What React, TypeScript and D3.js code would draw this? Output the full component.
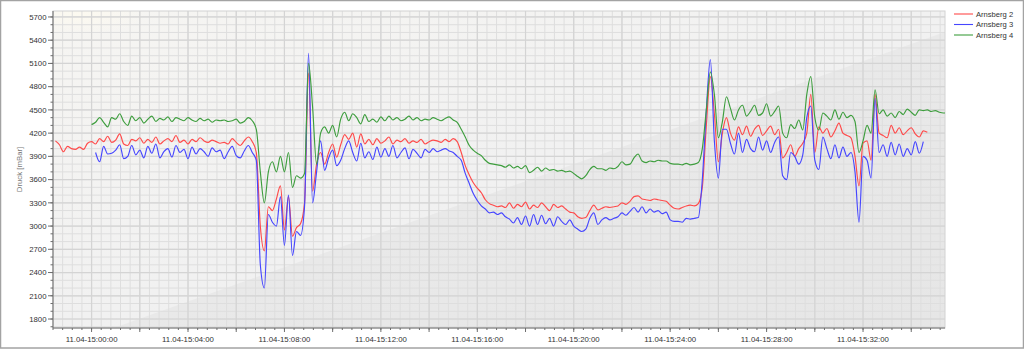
import React from 'react';
import * as d3 from 'd3';

// ---------- data ----------
const BASE_TIME = new Date(2014, 3, 11, 15, 0, 0).getTime(); // 11.04 15:00:00
const SAMPLE_SECONDS = 10;
const X_DOMAIN_SECONDS = [-96, 2124];
const Y_DOMAIN = [1684, 5777];
const Y_LABEL_TICKS = [1800, 2100, 2400, 2700, 3000, 3300, 3600, 3900, 4200, 4500, 4800, 5100, 5400, 5700];
const X_LABEL_MINUTES = [0, 4, 8, 12, 16, 20, 24, 28, 32];
const SERIES_NAMES = ['Arnsberg 2', 'Arnsberg 3', 'Arnsberg 4'];
const SERIES_COLORS = ['#ff4a4a', '#4646ff', '#3e9e3e'];

const redStartSec = -90;
const red = [
  4100, 4050, 3960, 4030, 4000, 3990, 4020, 3990, 4070, 4090,
  4060, 4130, 4090, 4160, 4080, 4110, 4190, 4060, 4040, 4120,
  4100, 4140, 4070, 4120, 4080, 4150, 4060, 4100, 4130, 4090,
  4170, 4080, 4110, 4060, 4120, 4090, 4140, 4100, 4080, 4110,
  4090, 4070, 4080, 4060, 4130, 4080, 4040, 4100, 4150, 4090,
  3950, 3000, 2680, 3250, 3200, 3350, 3520, 2950, 3380, 2870,
  2980, 3030, 3300, 4980, 3450, 3800, 3950, 3800, 3950, 4060,
  3890, 4050, 4180, 4120, 4200, 4020, 4190, 4060, 4120, 4050,
  4130, 4070, 4100, 4150, 4060, 4110, 4090, 4130, 4070, 4100,
  4080, 4120, 4060, 4090, 4110, 4100, 4080, 4120, 4090, 4130,
  4090, 3950, 3780, 3660, 3560, 3490, 3430, 3340, 3290, 3270,
  3250, 3260, 3240, 3300, 3230, 3280, 3250, 3310, 3220, 3270,
  3240, 3300, 3250, 3200, 3280, 3240, 3260, 3220, 3180, 3170,
  3120, 3100, 3110, 3200, 3270, 3210, 3230, 3250, 3240, 3250,
  3260, 3300, 3280, 3320, 3380, 3390, 3350, 3340, 3330, 3350,
  3340, 3330, 3320, 3270, 3230, 3220, 3240, 3260, 3270, 3260,
  3290, 3500, 4300, 4930, 4450, 3830, 4200, 4400, 4200, 4110,
  4280, 4180, 4290, 4160, 4250, 4300, 4170, 4230, 4290, 4180,
  4250, 3880, 3950, 4050, 3900, 4000, 4070, 4200, 4700, 3950,
  4280, 4200, 4260, 4150, 4230, 4330, 4200, 4170, 4140, 3900,
  3520, 4070, 4100, 3850, 4700, 4200, 4170, 4140, 4300, 4200,
  4270, 4180, 4230, 4270, 4190, 4150, 4230, 4210,
];

const blueStartSec = 10;
const blue = [
  3950, 3830, 4030, 3930, 3940, 3980, 4050, 3870, 3900, 4040,
  3920, 3980, 3880, 4030, 3940, 4060, 3880, 3960, 4000, 3890,
  4040, 3950, 3990, 3870, 4020, 3930, 4000, 3960, 3900, 4010,
  3960, 3980, 3870, 3960, 4030, 3910, 3880, 3970, 4040, 3950,
  3850, 2500, 2200, 3150, 3050, 3000, 3380, 2750, 3400, 2620,
  2930, 2880, 3250, 5230, 3300, 3700, 4100, 3720, 3880, 3980,
  3780, 3850, 4000, 4100, 3950, 3840, 4070, 3880, 3960, 3860,
  4020, 3890, 4000, 3900, 4040, 3880, 3950, 4010, 3870, 3990,
  3940, 3880, 3990, 3950, 4000, 3960, 3980, 4000, 3970, 3950,
  3900, 3850, 3680, 3550, 3420, 3330, 3260, 3220, 3170, 3180,
  3150, 3170, 3120, 3090, 3040, 3110, 3020, 3130, 3000, 3150,
  3020, 3140, 3030, 3100, 3000, 3120, 3060, 3020, 3080, 3000,
  2960, 2930, 2960, 3100, 3170, 3020, 3080, 3110, 3080, 3100,
  3120, 3170, 3140, 3190, 3240, 3180, 3250, 3170, 3220, 3180,
  3200, 3160, 3180, 3080, 3060, 3060, 3050, 3100, 3090, 3100,
  3110, 3600, 4500, 5150, 4100, 3620, 4250, 4250, 4070, 3930,
  4200, 3950, 4120, 4000, 3960, 4150, 3980, 4100, 3950, 4080,
  4150, 3650, 3600, 3950, 3900, 3800, 3920, 4400, 4550, 3850,
  3730, 4150, 4000, 3870, 4050, 3880, 4020, 3900, 3950, 3700,
  3050, 3900, 3850, 3620, 4650, 3950, 4050, 3900, 4080, 3920,
  4060, 3900, 4000, 3920, 4090, 3940, 4090,
];

const greenStartSec = 0;
const green = [
  4310,
  4340, 4400, 4340, 4280, 4400, 4380, 4450, 4350, 4300, 4420,
  4360, 4400, 4330, 4380, 4420, 4350, 4390, 4370, 4410, 4350,
  4400, 4380, 4360, 4400, 4370, 4350, 4390, 4360, 4380, 4340,
  4370, 4360, 4370, 4350, 4360, 4380, 4330, 4350, 4400, 4360,
  4250, 3700, 3300, 3700, 3830, 3700, 3900, 3700, 3950, 3500,
  3650, 3620, 3680, 5100, 4540, 3800, 4200, 4280, 4200, 4300,
  4150, 4380, 4470, 4360, 4450, 4400, 4320, 4440, 4350, 4380,
  4340, 4410, 4360, 4420, 4370, 4400, 4360, 4380, 4420, 4370,
  4400, 4360, 4380, 4370, 4400, 4380, 4360, 4390, 4410, 4370,
  4340, 4250, 4150, 4040, 3980, 3940, 3910, 3850, 3810, 3800,
  3790, 3780, 3760, 3790, 3750, 3770, 3740, 3780, 3690, 3720,
  3760, 3710, 3750, 3720, 3730, 3710, 3720, 3700, 3710, 3680,
  3640, 3610, 3650, 3730, 3770, 3740, 3740, 3720, 3750, 3740,
  3770, 3830, 3790, 3800, 3880, 3930, 3840, 3820, 3840, 3830,
  3850, 3840, 3840, 3810, 3800, 3800, 3790, 3810, 3790, 3800,
  3820, 4000, 4500, 4990, 4700, 4140, 4350, 4670, 4520, 4370,
  4500, 4560, 4420, 4480, 4560, 4430, 4460, 4580, 4420, 4480,
  4550, 4200, 4140, 4310, 4260, 4370, 4240, 4700, 4930, 4400,
  4240, 4460, 4420, 4370, 4500, 4380, 4470, 4400, 4430, 4350,
  3950, 4100, 4300, 4200, 4760, 4450, 4500, 4420, 4460, 4400,
  4480, 4440, 4510, 4470, 4430, 4500, 4490, 4500, 4480, 4490,
  4470, 4460, 4460,
];

const SERIES = [
  { start: redStartSec, values: red },
  { start: blueStartSec, values: blue },
  { start: greenStartSec, values: green },
];

// ---------- layout ----------
const W = 1024;
const H = 349;
const PL = 53;
const PR = 945;
const PT = 11;
const PB = 328;
const FONT = '"Liberation Sans", Arial, sans-serif';

const toDate = (s: number) => new Date(BASE_TIME + s * 1000);

export default function App() {
  const x = d3.scaleTime().domain(X_DOMAIN_SECONDS.map(toDate)).range([PL, PR]);
  const y = d3.scaleLinear().domain(Y_DOMAIN).range([PB, PT]);
  const fmt = d3.timeFormat('%d.%m-%H:%M:%S');

  const minorX = d3.range(X_DOMAIN_SECONDS[0], X_DOMAIN_SECONDS[1] + 1, 24).map(toDate);
  const majorX = d3.range(0, X_DOMAIN_SECONDS[1] + 1, 120).map(toDate);
  const minorY = d3.range(1700, 5701, 100);
  const majorY = Y_LABEL_TICKS;

  const line = d3
    .line<[Date, number]>()
    .x((d) => x(d[0]))
    .y((d) => y(d[1]))
    .curve(d3.curveMonotoneX);

  const pw = PR - PL;
  const ph = PB - PT;

  return (
    <svg width={W} height={H} style={{ position: 'absolute', left: 0, top: 0, fontFamily: FONT }}>
      <defs>
        <clipPath id="plotclip">
          <rect x={PL} y={PT} width={pw} height={ph} />
        </clipPath>
        <linearGradient id="bgUpper" x1="0" y1="0" x2="1" y2="1">
          <stop offset="0" stopColor="#f6f5f2" />
          <stop offset="0.5" stopColor="#f1f1f1" />
          <stop offset="1" stopColor="#efefef" />
        </linearGradient>
        <linearGradient id="bgLower" x1="0" y1="0" x2="1" y2="1">
          <stop offset="0" stopColor="#ececec" />
          <stop offset="1" stopColor="#e6e6e6" />
        </linearGradient>
        <radialGradient id="glare" cx="0.1" cy="0.05" r="0.25">
          <stop offset="0" stopColor="#fdfaf0" stopOpacity="0.9" />
          <stop offset="1" stopColor="#fdfaf0" stopOpacity="0" />
        </radialGradient>
      </defs>
      <rect x={0.5} y={0.5} width={W - 1} height={H - 1.5} fill="#ffffff" stroke="#a3a3a3" strokeWidth={1.5} />

      {/* plot background */}
      <rect x={PL} y={PT} width={pw} height={ph} fill="url(#bgUpper)" />
      <rect x={PL} y={PT} width={pw * 0.3} height={ph * 0.25} fill="url(#glare)" />
      <polygon
        points={`${PL + pw * 0.068},${PB} ${PR},${PB} ${PR},${PT + ph * 0.066}`}
        fill="url(#bgLower)"
      />

      {/* grid */}
      <g>
        {minorX.map((d, i) => (
          <line key={'vx' + i} x1={x(d)} x2={x(d)} y1={PT} y2={PB} stroke="#dedede" strokeWidth={1} />
        ))}
        {minorY.map((v, i) => (
          <line key={'hy' + i} x1={PL} x2={PR} y1={y(v)} y2={y(v)} stroke="#dedede" strokeWidth={1} />
        ))}
        {majorX.map((d, i) => (
          <line key={'VX' + i} x1={x(d)} x2={x(d)} y1={PT} y2={PB} stroke="#d4d4d4" strokeWidth={1.2} />
        ))}
        {majorY.map((v, i) => (
          <line key={'HY' + i} x1={PL} x2={PR} y1={y(v)} y2={y(v)} stroke="#d4d4d4" strokeWidth={1.2} />
        ))}
      </g>
      <rect x={PL} y={PT} width={pw} height={ph} fill="none" stroke="#d2d2d2" />

      {/* series */}
      <g clipPath="url(#plotclip)">
        {SERIES.map((s, si) => {
          const pts: [Date, number][] = s.values.map((v, i) => [toDate(s.start + i * SAMPLE_SECONDS), v]);
          return (
            <path key={si} d={line(pts) || ''} fill="none" stroke={SERIES_COLORS[si]} strokeWidth={1.15} strokeLinejoin="round" />
          );
        })}
      </g>

      {/* y axis */}
      <line x1={PL} x2={PL} y1={PT} y2={PB} stroke="#6e6e6e" />
      {minorY.map((v, i) => (
        <line key={'ty' + i} x1={PL - 2.5} x2={PL} y1={y(v)} y2={y(v)} stroke="#6e6e6e" />
      ))}
      {majorY.map((v, i) => (
        <g key={'TY' + i}>
          <line x1={PL - 5} x2={PL} y1={y(v)} y2={y(v)} stroke="#6e6e6e" />
          <text x={46.5} y={y(v)} dy="0.35em" textAnchor="end" fontSize={7.8} fill="#333">
            {v}
          </text>
        </g>
      ))}
      <text
        transform={`translate(19,${(PT + PB) / 2}) rotate(-90)`}
        textAnchor="middle"
        dy="0.35em"
        fontSize={7.8}
        fill="#7a7a7a"
      >
        Druck [mBar]
      </text>

      {/* x axis */}
      <line x1={PL} x2={PR} y1={PB} y2={PB} stroke="#6e6e6e" />
      {minorX.map((d, i) => (
        <line key={'tx' + i} x1={x(d)} x2={x(d)} y1={PB} y2={PB + 2} stroke="#6e6e6e" />
      ))}
      {majorX.map((d, i) => (
        <line key={'TX' + i} x1={x(d)} x2={x(d)} y1={PB} y2={PB + 4} stroke="#6e6e6e" />
      ))}
      {X_LABEL_MINUTES.map((m, i) => {
        const d = toDate(m * 60);
        return (
          <text key={'lx' + i} x={x(d)} y={339} dy="0.35em" textAnchor="middle" fontSize={7.8} fill="#333">
            {fmt(d)}
          </text>
        );
      })}

      {/* legend */}
      {SERIES_NAMES.map((name, i) => (
        <g key={'lg' + i} transform={`translate(954,${14 + i * 10.5})`}>
          <line x1={0} x2={19} y1={0} y2={0} stroke={SERIES_COLORS[i]} strokeWidth={1.1} />
          <text x={22} y={0} dy="0.35em" fontSize={7.6} fill="#333">
            {name}
          </text>
        </g>
      ))}
    </svg>
  );
}
